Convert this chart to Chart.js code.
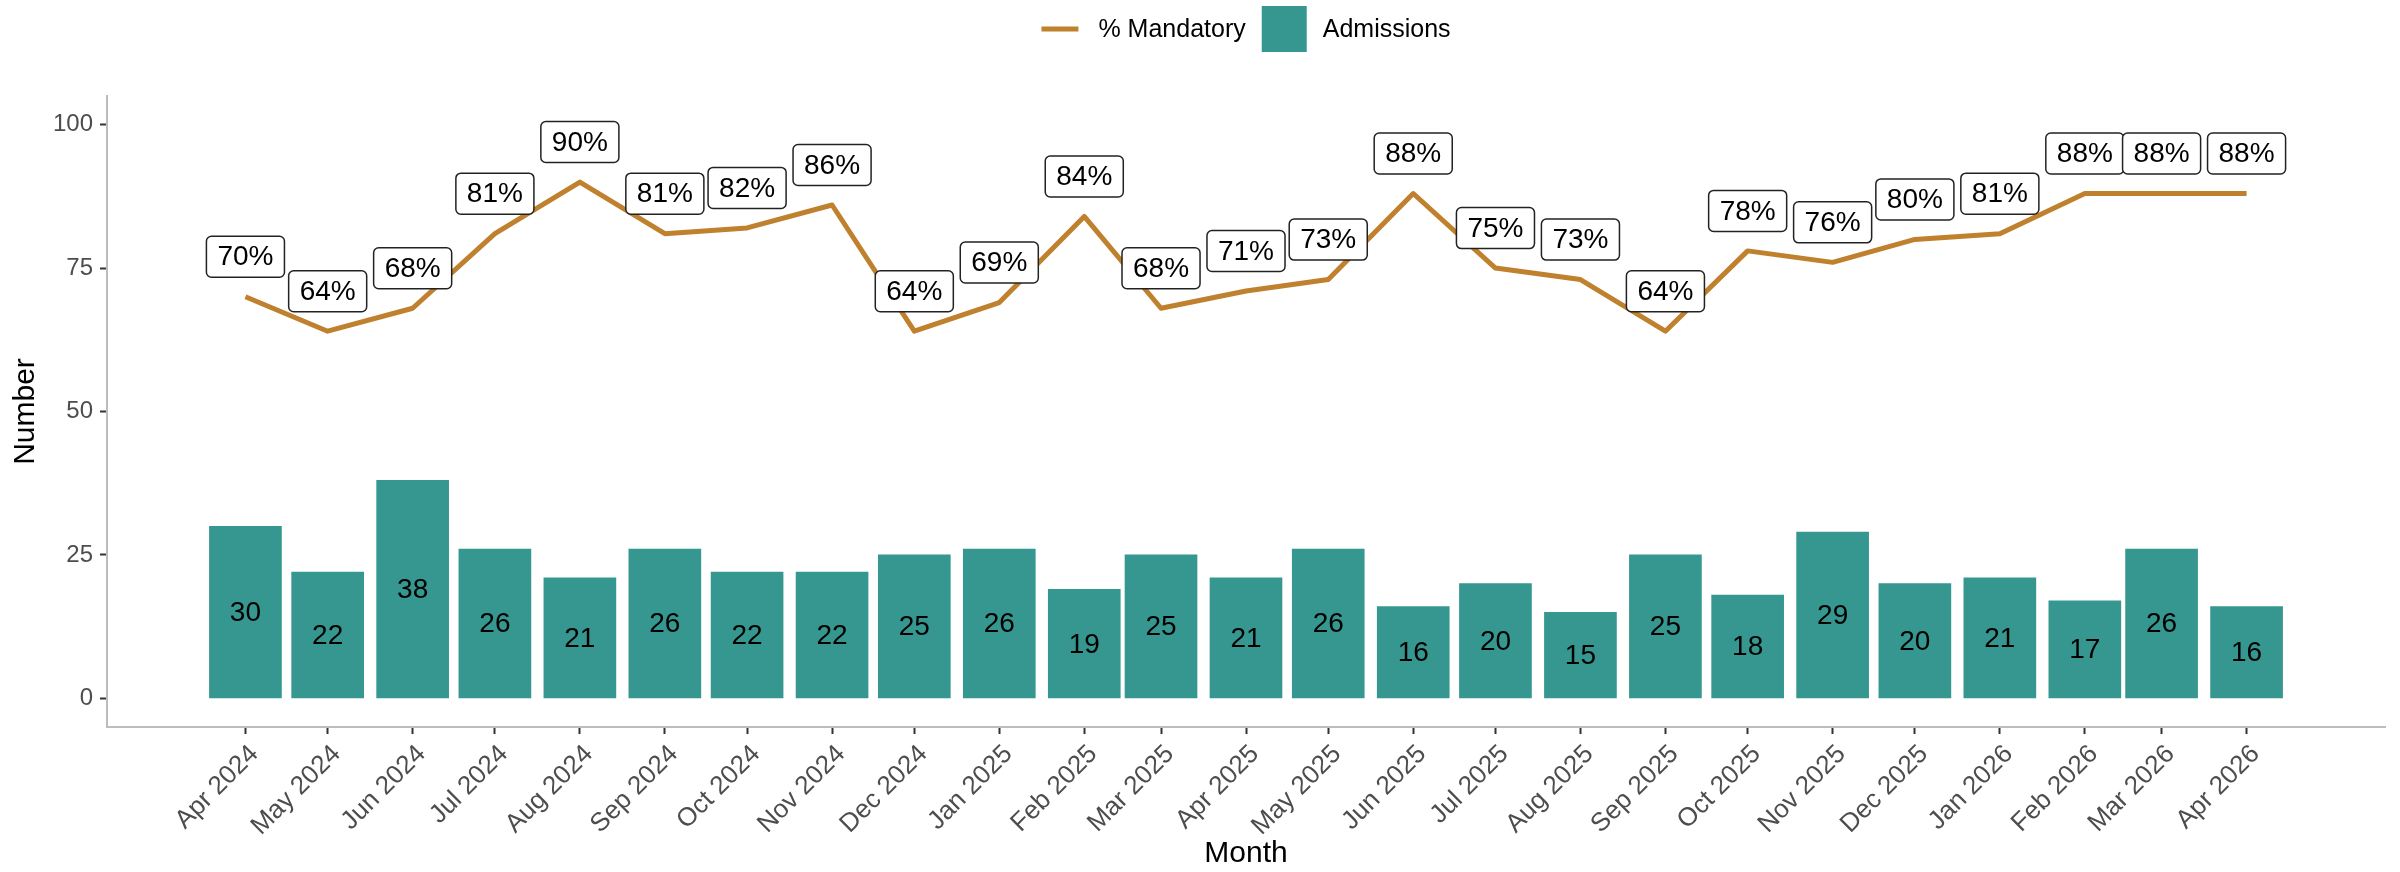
<!DOCTYPE html>
<html>
<head>
<meta charset="utf-8">
<title>Admissions and % Mandatory</title>
<script src="https://cdn.jsdelivr.net/npm/chart.js@4.4.1/dist/chart.umd.min.js"></script>
<style>
  html, body { margin: 0; padding: 0; background: #ffffff; }
  #wrap { width: 2400px; height: 872px; }
</style>
</head>
<body>
<div id="wrap"><canvas id="admissions-chart" width="2400" height="872"></canvas></div>
<script>
// Months shown on the x axis (the axis is a date axis, so spacing follows days)
const monthLabels = ['Apr 2024', 'May 2024', 'Jun 2024', 'Jul 2024', 'Aug 2024', 'Sep 2024', 'Oct 2024', 'Nov 2024', 'Dec 2024',
    'Jan 2025', 'Feb 2025', 'Mar 2025', 'Apr 2025', 'May 2025', 'Jun 2025', 'Jul 2025', 'Aug 2025', 'Sep 2025', 'Oct 2025',
    'Nov 2025', 'Dec 2025', 'Jan 2026', 'Feb 2026', 'Mar 2026', 'Apr 2026'];
const monthDates = ['2024-04-01', '2024-05-01', '2024-06-01', '2024-07-01', '2024-08-01', '2024-09-01', '2024-10-01', '2024-11-01', '2024-12-01',
    '2025-01-01', '2025-02-01', '2025-03-01', '2025-04-01', '2025-05-01', '2025-06-01', '2025-07-01', '2025-08-01', '2025-09-01', '2025-10-01',
    '2025-11-01', '2025-12-01', '2026-01-01', '2026-02-01', '2026-03-01', '2026-04-01'];

// Series values
const admissions = [30, 22, 38, 26, 21, 26, 22, 22, 25, 26, 19, 25, 21, 26, 16, 20, 15, 25, 18, 29, 20, 21, 17, 26, 16];
const pctMandatory = [70, 64, 68, 81, 90, 81, 82, 86, 64, 69, 84, 68, 71, 73, 88, 75, 73, 64, 78, 76, 80, 81, 88, 88, 88];

// Axis ticks
const yTicks = [0, 25, 50, 75, 100];

const lineColour = '#bf812d';
const barColour = '#35978f';
const fontFamily = '"Liberation Sans", Arial, Helvetica, sans-serif';

// days since the first month, used as the x value
const dayZero = Date.parse(monthDates[0]);
const dayOffsets = monthDates.map(d => (Date.parse(d) - dayZero) / 86400000);

Chart.defaults.font.family = fontFamily;

// Labels on bars (centred) and boxed % labels above the line
const valueLabels = {
    id: 'valueLabels',
    afterDatasetsDraw(chart) {
        const c = chart.ctx;
        const yScale = chart.scales.y;
        c.save();
        c.font = '28px ' + fontFamily;
        c.textAlign = 'center';
        c.textBaseline = 'middle';

        const barMeta = chart.getDatasetMeta(1);
        c.fillStyle = '#000000';
        barMeta.data.forEach((bar, i) => {
            c.fillText(String(admissions[i]), bar.x, yScale.getPixelForValue(admissions[i] / 2) + 1);
        });

        const lineMeta = chart.getDatasetMeta(0);
        lineMeta.data.forEach((pt, i) => {
            const text = pctMandatory[i] + '%';
            const w = c.measureText(text).width + 22;
            const h = 41;
            const cx = pt.x;
            const cy = pt.y - 40;
            c.beginPath();
            c.roundRect(cx - w / 2, cy - h / 2, w, h, 5);
            c.fillStyle = '#ffffff';
            c.fill();
            c.lineWidth = 1.5;
            c.strokeStyle = '#222222';
            c.stroke();
            c.fillStyle = '#000000';
            c.fillText(text, cx, cy + 1);
        });
        c.restore();
    }
};

// Legend drawn by hand so the line key and the square key can have their own sizes
const legendKeys = {
    id: 'legendKeys',
    afterDraw(chart) {
        const c = chart.ctx;
        const [lineSet, barSet] = chart.data.datasets;
        c.save();
        c.font = '25px ' + fontFamily;
        const w1 = c.measureText(lineSet.label).width;
        const w2 = c.measureText(barSet.label).width;
        const total = 37 + 20 + w1 + 16 + 45 + 16 + w2;
        const area = chart.chartArea;
        let x = (area.left + area.right) / 2 - total / 2;
        const y = 29;

        c.strokeStyle = lineSet.borderColor;
        c.lineWidth = 5;
        c.beginPath();
        c.moveTo(x, y);
        c.lineTo(x + 37, y);
        c.stroke();
        x += 37 + 20;

        c.fillStyle = '#000000';
        c.textAlign = 'left';
        c.textBaseline = 'middle';
        c.fillText(lineSet.label, x, y + 1);
        x += w1 + 16;

        c.fillStyle = barSet.backgroundColor;
        c.fillRect(x, y - 23, 45, 46);
        x += 45 + 16;

        c.fillStyle = '#000000';
        c.fillText(barSet.label, x, y + 1);
        c.restore();
    }
};

const ctx = document.getElementById('admissions-chart').getContext('2d');

const admissionsChart = new Chart(ctx, {
    type: 'bar',
    data: {
        datasets: [
            {
                type: 'line',
                label: '% Mandatory',
                data: dayOffsets.map((x, i) => ({ x: x, y: pctMandatory[i] })),
                borderColor: lineColour,
                backgroundColor: lineColour,
                borderWidth: 5,
                borderJoinStyle: 'round',
                pointRadius: 0,
                tension: 0,
                fill: false,
                order: 0
            },
            {
                type: 'bar',
                label: 'Admissions',
                data: dayOffsets.map((x, i) => ({ x: x, y: admissions[i] })),
                backgroundColor: barColour,
                borderWidth: 0,
                barThickness: 72,
                order: 1
            }
        ]
    },
    options: {
        responsive: false,
        animation: false,
        layout: {
            padding: { top: 96, right: 15, left: 0, bottom: 0 }
        },
        plugins: {
            legend: { display: false },
            tooltip: { enabled: false }
        },
        scales: {
            x: {
                type: 'linear',
                min: -50.5,
                max: 780.5,
                offset: false,
                bounds: 'data',
                grid: {
                    display: true,
                    offset: false,
                    drawOnChartArea: false,
                    drawTicks: true,
                    tickLength: 7,
                    tickColor: '#333333',
                    tickWidth: 2
                },
                border: { display: true, color: '#bdbdbd', width: 2 },
                afterBuildTicks: function(scale) {
                    scale.ticks = dayOffsets.map(v => ({ value: v }));
                },
                afterFit: function(scale) {
                    scale.height = 145;
                },
                ticks: {
                    autoSkip: false,
                    minRotation: 45,
                    maxRotation: 45,
                    padding: 5,
                    labelOffset: 9,
                    color: '#4d4d4d',
                    font: { size: 26 },
                    callback: function(value, index) {
                        return monthLabels[index];
                    }
                },
                title: {
                    display: true,
                    text: 'Month',
                    color: '#000000',
                    font: { size: 30 },
                    padding: { top: 0, bottom: 0 }
                }
            },
            y: {
                min: -5,
                max: 105,
                grid: {
                    display: true,
                    drawOnChartArea: false,
                    drawTicks: true,
                    tickLength: 7,
                    tickColor: '#333333',
                    tickWidth: 2
                },
                border: { display: true, color: '#bdbdbd', width: 2 },
                afterBuildTicks: function(scale) {
                    scale.ticks = yTicks.map(v => ({ value: v }));
                },
                afterFit: function(scale) {
                    scale.width = 107;
                },
                ticks: {
                    padding: 7,
                    color: '#4d4d4d',
                    font: { size: 24 }
                },
                title: {
                    display: true,
                    text: 'Number',
                    color: '#000000',
                    font: { size: 30 },
                    padding: { top: 8, bottom: 0 }
                }
            }
        }
    },
    plugins: [valueLabels, legendKeys]
});
</script>
</body>
</html>
